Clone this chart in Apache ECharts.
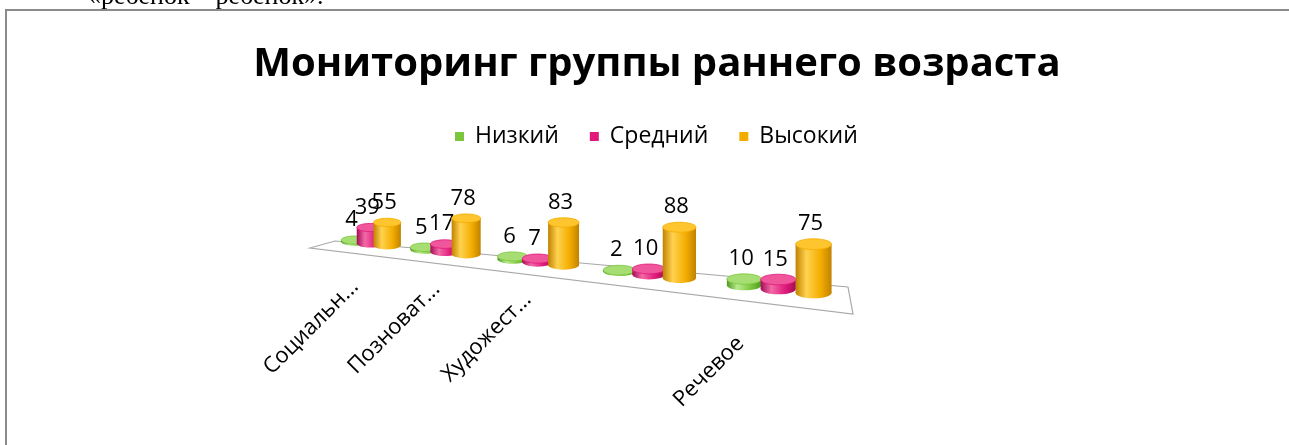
<!DOCTYPE html>
<html lang="ru">
<head>
<meta charset="UTF-8">
<title>Мониторинг группы раннего возраста</title>
<script src="https://cdn.jsdelivr.net/npm/echarts@6/dist/echarts.min.js"></script>
<style>
  html, body { margin: 0; padding: 0; background: #fff; }
</style>
</head>
<body>
<div id="main" style="width: 1289px; height: 445px;"></div>
<script type="text/javascript">
// chart data
const categories = ['Социальн...', 'Позноват...', 'Художест...', '', 'Речевое'];
const seriesNames = ['Низкий', 'Средний', 'Высокий'];
const lowValues = [4, 5, 6, 2, 10];
const midValues = [39, 17, 7, 10, 15];
const highValues = [55, 78, 83, 88, 75];

const FONT = '"Open Sans", "Noto Sans", sans-serif';

// cylinder colours: [dark, light, base, top]
const palette = [
    ['#4e9a1f', '#b9ea8c', '#7cc63d', '#a6de73'],
    ['#a30c55', '#f36aa7', '#e01a7b', '#f0569b'],
    ['#c08200', '#ffd24f', '#f3ad00', '#ffc52e']
];

// fake perspective: the far (left) end is compressed, the floor slopes down to the right
const A = 0.451;
function warp(t) { return (1 - A) * t + A * t * t; }
const DROP = 57; // px the base line falls across the grid

let myChart = echarts.init(document.getElementById('main'));

function baseY(cs, g) { return cs.y + cs.height + DROP * g; }

function renderCylinder(params, api) {
    const cs = params.coordSys;
    const s = params.seriesIndex - 1; // 0..2
    const i = api.value(0);
    const v = api.value(1);
    const band = api.size([1, 0])[0];
    const c0 = api.coord([i, 0]);
    const xLin = c0[0] + (s - 1) * band * 0.25;
    const g = warp((xLin - cs.x) / cs.width);
    const cx = cs.x + cs.width * g;
    const yb = baseY(cs, g);
    const h = (c0[1] - api.coord([i, v])[1]) * (0.39 + 0.28 * g);
    const yt = yb - h;
    const bw = band * (0.26 + 0.1 * g);
    const rx = bw / 2, ry = bw * 0.15;
    const col = palette[s];
    const side = new echarts.graphic.LinearGradient(0, 0, 1, 0, [
        { offset: 0, color: col[0] },
        { offset: 0.3, color: col[1] },
        { offset: 0.7, color: col[2] },
        { offset: 1, color: col[0] }
    ]);
    return {
        type: 'group',
        children: [
            { type: 'ellipse', shape: { cx: cx, cy: yb, rx: rx, ry: ry }, style: { fill: side } },
            { type: 'rect', shape: { x: cx - rx, y: yt, width: bw, height: yb - yt }, style: { fill: side } },
            { type: 'ellipse', shape: { cx: cx, cy: yt, rx: rx, ry: ry }, style: { fill: col[3], stroke: col[2], lineWidth: 0.8 } },
            {
                type: 'text', x: cx - 3, y: yt - 20,
                style: { text: String(v), font: '22px ' + FONT, fill: '#000', align: 'center', verticalAlign: 'middle' }
            }
        ]
    };
}

function renderFloor(params, api) {
    const cs = params.coordSys;
    const y0 = baseY(cs, 0), y1 = baseY(cs, 1);
    const x0 = cs.x, x1 = cs.x + cs.width;
    return {
        type: 'polygon',
        shape: { points: [[x0 - 30, y0 + 8], [x0 - 5, y0 + 1], [x1 - 2, y1 - 10], [x1 + 3, y1 + 17]] },
        style: { fill: '#fff', stroke: '#a8a8a8', lineWidth: 1.2 }
    };
}

function renderAxisLabel(params, api) {
    const cs = params.coordSys;
    const i = api.value(0);
    const t = (api.coord([i, 0])[0] - cs.x) / cs.width;
    const x = cs.x - 22 + cs.width * (0.70 * t + 0.245 * t * t);
    const y = cs.y + cs.height + 45 - 26.5 * t + 97.5 * t * t;
    return {
        type: 'text', x: x, y: y, rotation: Math.PI / 4,
        style: { text: categories[i], font: '22px ' + FONT, fill: '#000', align: 'right', verticalAlign: 'middle' }
    };
}

const valueLists = [lowValues, midValues, highValues];

let options = {
    animation: false,
    title: {
        text: 'Мониторинг группы раннего возраста',
        left: 652,
        top: 40,
        textAlign: 'center',
        textStyle: { fontFamily: FONT, fontWeight: 'bold', fontSize: 40, color: '#000' }
    },
    legend: {
        data: seriesNames,
        left: 450,
        top: 120,
        icon: 'rect',
        itemWidth: 9,
        itemHeight: 9,
        itemGap: 31,
        textStyle: { fontFamily: FONT, fontSize: 23, color: '#000', padding: [0, 0, 0, 6] }
    },
    grid: { left: 340, right: 439, top: 140, bottom: 205 },
    xAxis: { type: 'category', data: categories, show: false },
    yAxis: { type: 'value', min: 0, max: 100, show: false },
    graphic: [
        {
            type: 'text', left: 88, top: -16, z: 1,
            style: { text: '«ребенок – ребенок».', font: '26px "Liberation Serif", serif', fill: '#000' }
        },
        {
            type: 'rect', z: 2, silent: true,
            shape: { x: 6, y: 10, width: 1400, height: 600 },
            style: { fill: 'none', stroke: '#8a8a8a', lineWidth: 2 }
        }
    ],
    series: [
        { type: 'custom', name: 'floor', renderItem: renderFloor, data: [[0]], z: 1 }
    ]
};

seriesNames.forEach((name, s) => {
    options.series.push({
        type: 'custom',
        name: name,
        renderItem: renderCylinder,
        data: valueLists[s].map((v, i) => [i, v]),
        itemStyle: { color: palette[s][2] },
        z: 2 + s
    });
});

options.series.push({
    type: 'custom', name: 'labels', renderItem: renderAxisLabel,
    data: categories.map((c, i) => [i]), z: 6
});

myChart.setOption(options);
</script>
</body>
</html>
